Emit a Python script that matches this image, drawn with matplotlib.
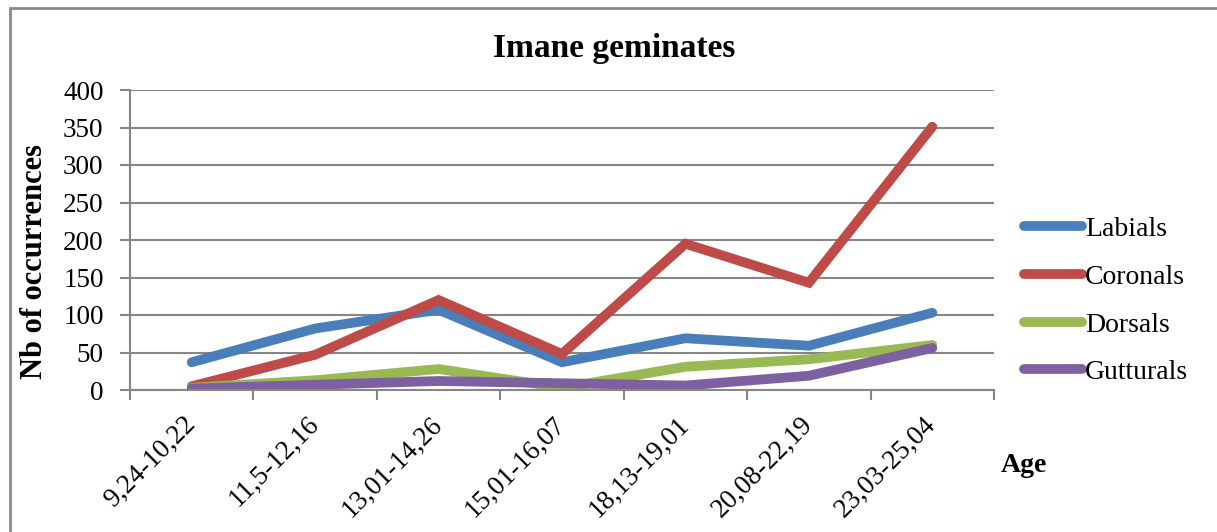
import matplotlib.pyplot as plt
from matplotlib.patches import Rectangle
import numpy as np

ages = ["9,24-10,22", "11,5-12,16", "13,01-14,26", "15,01-16,07",
        "18,13-19,01", "20,08-22,19", "23,03-25,04"]
labials = [37, 82, 107, 37, 69, 59, 103]
coronals = [5, 47, 120, 48, 195, 143, 351]
dorsals = [3, 13, 28, 3, 31, 41, 60]
gutturals = [2, 7, 12, 9, 6, 19, 56]

series = [("Labials", labials, "#4a7ebb"),
          ("Coronals", coronals, "#be4b48"),
          ("Dorsals", dorsals, "#98b954"),
          ("Gutturals", gutturals, "#7d60a0")]

plt.rcParams['font.family'] = ['Liberation Serif', 'DejaVu Serif']

W, H = 1217, 532
fig = plt.figure(figsize=(W/100, H/100), dpi=100)
# outer chart border (only left and top edges are visible in the crop)
fig.patches.append(Rectangle((9.5/W, -0.1), 1.2, 1.1 - 7.5/H, transform=fig.transFigure,
                             fill=False, edgecolor="#8a8a8a", lw=2))
ax = fig.add_axes([130/W, 1-390/H, 864/W, 300/H])

x = np.arange(len(ages))
for name, vals, col in series:
    ax.plot(x, vals, color=col, lw=7, solid_capstyle='round',
            solid_joinstyle='miter', label=name)

ax.set_xlim(-0.5, len(ages)-0.5)
ax.set_ylim(0, 400)
ax.set_yticks(range(0, 401, 50))
ax.yaxis.grid(True, color="#868686", lw=1.5)
ax.set_axisbelow(True)
for s in ["top", "right"]:
    ax.spines[s].set_visible(False)
for s in ["left", "bottom"]:
    ax.spines[s].set_color("#868686")
    ax.spines[s].set_linewidth(1.5)
ax.set_xticks(x)
ax.set_xticklabels(ages, rotation=45, ha='right', va='center', rotation_mode='anchor',
                   fontsize=19.5)
ax.set_xticks(np.arange(-0.5, len(ages)), minor=True)
ax.tick_params(axis='x', which='major', length=0, pad=22)
ax.tick_params(axis='x', which='minor', length=7, width=1.5, color="#868686", direction='out')
ax.tick_params(axis='y', length=7, width=1.5, color="#868686", labelsize=19.5, pad=12)

fig.text(35/W, 1-262/H, "Nb of occurrences", rotation=90, ha='center', va='center',
         fontsize=22, fontweight='bold')
fig.text(614/W, 1-49/H, "Imane geminates", ha='center', va='center',
         fontsize=24, fontweight='bold')
fig.text(1024/W, 1-466/H, "Age", ha='center', va='center',
         fontsize=20, fontweight='bold')

fig.legend(loc='center left', bbox_to_anchor=(1013/W, 1-301/H), frameon=False,
           fontsize=20, handlelength=2.1, handletextpad=0.1, labelspacing=0.8,
           borderaxespad=0)

fig.savefig("out.png", dpi=100)
